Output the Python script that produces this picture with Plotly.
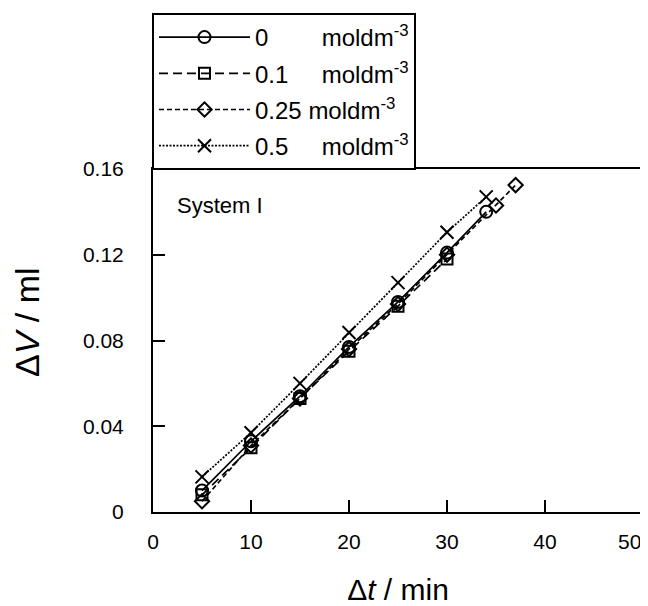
import plotly.graph_objects as go

# Data
t_0 = [5, 10, 15, 20, 25, 30, 34]
v_0 = [0.010, 0.033, 0.054, 0.077, 0.098, 0.121, 0.140]

t_01 = [5, 10, 15, 20, 25, 30]
v_01 = [0.008, 0.030, 0.053, 0.075, 0.096, 0.118]

t_025 = [5, 10, 15, 20, 25, 30, 35, 37]
v_025 = [0.005, 0.031, 0.053, 0.076, 0.097, 0.120, 0.143, 0.1525]

t_05 = [5, 10, 15, 20, 25, 30, 34]
v_05 = [0.0164, 0.037, 0.060, 0.0837, 0.107, 0.1305, 0.147]

x_ticks = [0, 10, 20, 30, 40, 50]
x_ticktext = ["0", "10", "20", "30", "40", ""]   # last label drawn as annotation (kept inside page)
last_x_label = "50"
y_ticks = [0, 0.04, 0.08, 0.12, 0.16]
y_ticktext = ["0", "0.04", "0.08", "0.12", "0.16"]

NB = "\u00a0"
names = [
    "0" + NB * 8 + "moldm<sup>-3</sup>",
    "0.1" + NB * 5 + "moldm<sup>-3</sup>",
    "0.25" + NB + "moldm<sup>-3</sup>",
    "0.5" + NB * 5 + "moldm<sup>-3</sup>",
]

FONT = "Liberation Sans, Arial, sans-serif"

# The page adds an 8px body margin, so the figure is 8px smaller than the window
W, H = 640, 598
OFF = 8

fig = go.Figure()
series = [
    (t_0, v_0, "solid", "circle-open", 12),
    (t_01, v_01, "9px,5px", "square-open", 11),
    (t_025, v_025, "5px,3px", "diamond-open", 11),
    (t_05, v_05, "2px,1.5px", "x-thin-open", 13),
]
for i, ((xs, ys, dash, sym, size), name) in enumerate(zip(series, names)):
    fig.add_trace(go.Scatter(
        x=xs, y=ys, name=name, mode="lines+markers", legendgroup=f"g{i}",
        line=dict(color="black", width=1.7, dash=dash),
        marker=dict(symbol=sym, size=size, color="black",
                    line=dict(color="black", width=2)),
    ))

fig.add_annotation(
    x=0.044, y=(512 - 205) / 343, xref="paper", yref="paper",
    xanchor="left", yanchor="middle",
    text="System I", showarrow=False, font=dict(family=FONT, size=22, color="black"),
)
fig.add_annotation(
    x=(27 - 153) / 490, y=(512 - 322) / 343, xref="paper", yref="paper",
    xanchor="center", yanchor="middle", textangle=-90,
    text="Δ<i>V</i> / ml", showarrow=False, font=dict(family=FONT, size=34, color="black"),
)
fig.add_annotation(
    x=1.0, y=(512 - 541) / 343, xref="paper", yref="paper",
    xanchor="right", yanchor="middle",
    text=last_x_label, showarrow=False, font=dict(family=FONT, size=21, color="black"),
)

fig.update_layout(
    width=W, height=H,
    margin=dict(l=153 - OFF, r=5, t=169 - OFF, b=94, autoexpand=False),
    paper_bgcolor="white", plot_bgcolor="white",
    font=dict(family=FONT, size=21, color="black"),
    showlegend=True,
    legend=dict(
        x=(152 - OFF) / W, y=1 - (13 - OFF) / H, xref="container", yref="container",
        xanchor="left", yanchor="top",
        bgcolor="white", bordercolor="black", borderwidth=2,
        font=dict(family=FONT, size=24, color="black"),
        tracegroupgap=2, itemwidth=91,
    ),
    xaxis=dict(
        range=[0, 50], tickvals=x_ticks, ticktext=x_ticktext,
        ticks="inside", ticklen=12, tickwidth=1.5, tickcolor="black",
        showline=True, linecolor="black", linewidth=2, mirror=True,
        showgrid=False, zeroline=False,
        tickfont=dict(family=FONT, size=21), ticklabelstandoff=10,
        title=dict(text="Δ<i>t</i> / min", font=dict(family=FONT, size=30), standoff=27),
    ),
    yaxis=dict(
        range=[0, 0.16], tickvals=y_ticks, ticktext=y_ticktext,
        ticks="inside", ticklen=12, tickwidth=1.5, tickcolor="black",
        showline=True, linecolor="black", linewidth=2, mirror=True,
        showgrid=False, zeroline=False,
        tickfont=dict(family=FONT, size=21), ticklabelstandoff=23,
    ),
)

fig.write_html("out.html")
